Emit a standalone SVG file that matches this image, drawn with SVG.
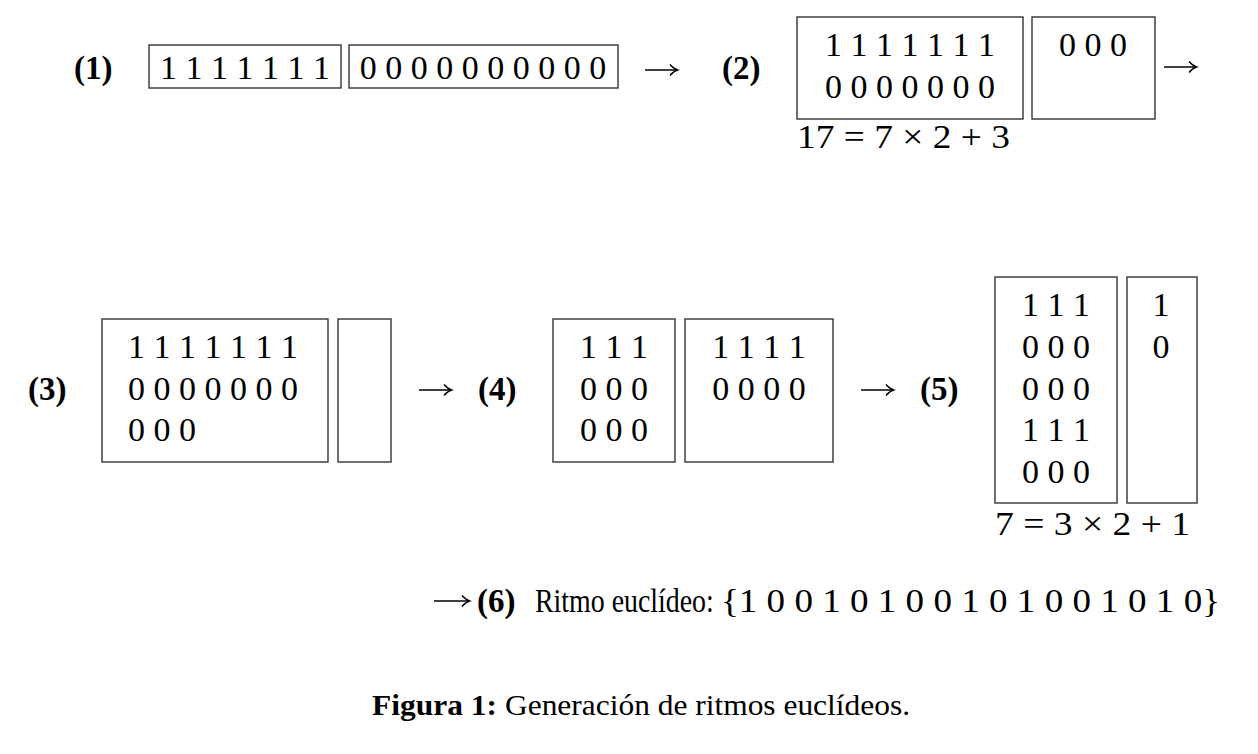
<svg xmlns="http://www.w3.org/2000/svg" width="1258" height="754" viewBox="0 0 1258 754">
<style>
.t{font-family:"Liberation Serif","Times New Roman",serif;font-size:34px;fill:#000}
.b{font-family:"Liberation Serif","Times New Roman",serif;font-size:33px;font-weight:bold;fill:#000}
.m{text-anchor:middle}
.box{fill:#fff;stroke:#333;stroke-width:1.4}
.cap{font-family:"Liberation Serif","Times New Roman",serif;font-size:30px;fill:#000}
.arr{stroke:#000;stroke-width:1.5;fill:none;marker-end:url(#ah)}
</style>
<defs>
<marker id="ah" viewBox="-8 -6 10 12" refX="0" refY="0" markerWidth="10" markerHeight="12" markerUnits="userSpaceOnUse" orient="auto" overflow="visible">
<path d="M-7,-5.5 Q-3,-1 0.5,0 Q-3,1 -7,5.5" stroke="#000" stroke-width="1.4" fill="none"/>
</marker>
</defs>
<rect width="1258" height="754" fill="#fff"/>
<g id="step1">
<text class="b" x="74" y="79">(1)</text>
<rect class="box" x="149" y="45" width="192" height="43"/>
<rect class="box" x="349" y="45" width="269" height="43"/>
<text class="t m" x="245" y="79">1 1 1 1 1 1 1</text>
<text class="t m" x="483" y="79">0 0 0 0 0 0 0 0 0 0</text>
</g>
<g id="step2">
<text class="b" x="722" y="79">(2)</text>
<rect class="box" x="797" y="17" width="226" height="102"/>
<rect class="box" x="1032" y="17" width="123" height="102"/>
<text class="t m" x="910" y="56">1 1 1 1 1 1 1</text>
<text class="t m" x="910" y="98">0 0 0 0 0 0 0</text>
<text class="t m" x="1093" y="56">0 0 0</text>
<text class="t" x="797" y="148" textLength="213" lengthAdjust="spacingAndGlyphs">17 = 7 × 2 + 3</text>
</g>
<g id="step3">
<text class="b" x="28" y="400">(3)</text>
<rect class="box" x="102" y="319" width="226" height="143"/>
<rect class="box" x="338" y="319" width="53" height="143"/>
<text class="t" x="128" y="358">1 1 1 1 1 1 1</text>
<text class="t" x="128" y="400">0 0 0 0 0 0 0</text>
<text class="t" x="128" y="441">0 0 0</text>
</g>
<g id="step4">
<text class="b" x="478" y="400">(4)</text>
<rect class="box" x="553" y="319" width="122" height="143"/>
<rect class="box" x="685" y="319" width="148" height="143"/>
<text class="t m" x="614" y="358">1 1 1</text>
<text class="t m" x="614" y="400">0 0 0</text>
<text class="t m" x="614" y="441">0 0 0</text>
<text class="t m" x="759" y="358">1 1 1 1</text>
<text class="t m" x="759" y="400">0 0 0 0</text>
</g>
<g id="step5">
<text class="b" x="920" y="400">(5)</text>
<rect class="box" x="995" y="277" width="122" height="226"/>
<rect class="box" x="1127" y="277" width="70" height="226"/>
<text class="t m" x="1056" y="316">1 1 1</text>
<text class="t m" x="1056" y="358">0 0 0</text>
<text class="t m" x="1056" y="400">0 0 0</text>
<text class="t m" x="1056" y="441">1 1 1</text>
<text class="t m" x="1056" y="483">0 0 0</text>
<text class="t m" x="1161" y="316">1</text>
<text class="t m" x="1161" y="358">0</text>
<text class="t" x="995" y="535" textLength="195" lengthAdjust="spacingAndGlyphs">7 = 3 × 2 + 1</text>
</g>
<g id="step6">
<text class="b" x="477" y="612">(6)</text>
<text class="t" font-size="33" transform="translate(535,612) scale(0.82,1)">Ritmo euclídeo:</text>
<text class="t" x="721" y="612" font-size="37" textLength="499" lengthAdjust="spacingAndGlyphs">{1 0 0 1 0 1 0 0 1 0 1 0 0 1 0 1 0}</text>
</g>
<g id="connectors">
<path class="arr" d="M645,70 H677"/>
<path class="arr" d="M1164,67 H1196"/>
<path class="arr" d="M419,390 H451"/>
<path class="arr" d="M861,390 H893"/>
<path class="arr" d="M434,601 H469"/>
</g>
<g id="caption">
<text class="cap" x="372" y="715" font-weight="bold" textLength="125" lengthAdjust="spacingAndGlyphs">Figura 1:</text>
<text class="cap" x="505" y="715" textLength="405" lengthAdjust="spacingAndGlyphs">Generación de ritmos euclídeos.</text>
</g>
</svg>
